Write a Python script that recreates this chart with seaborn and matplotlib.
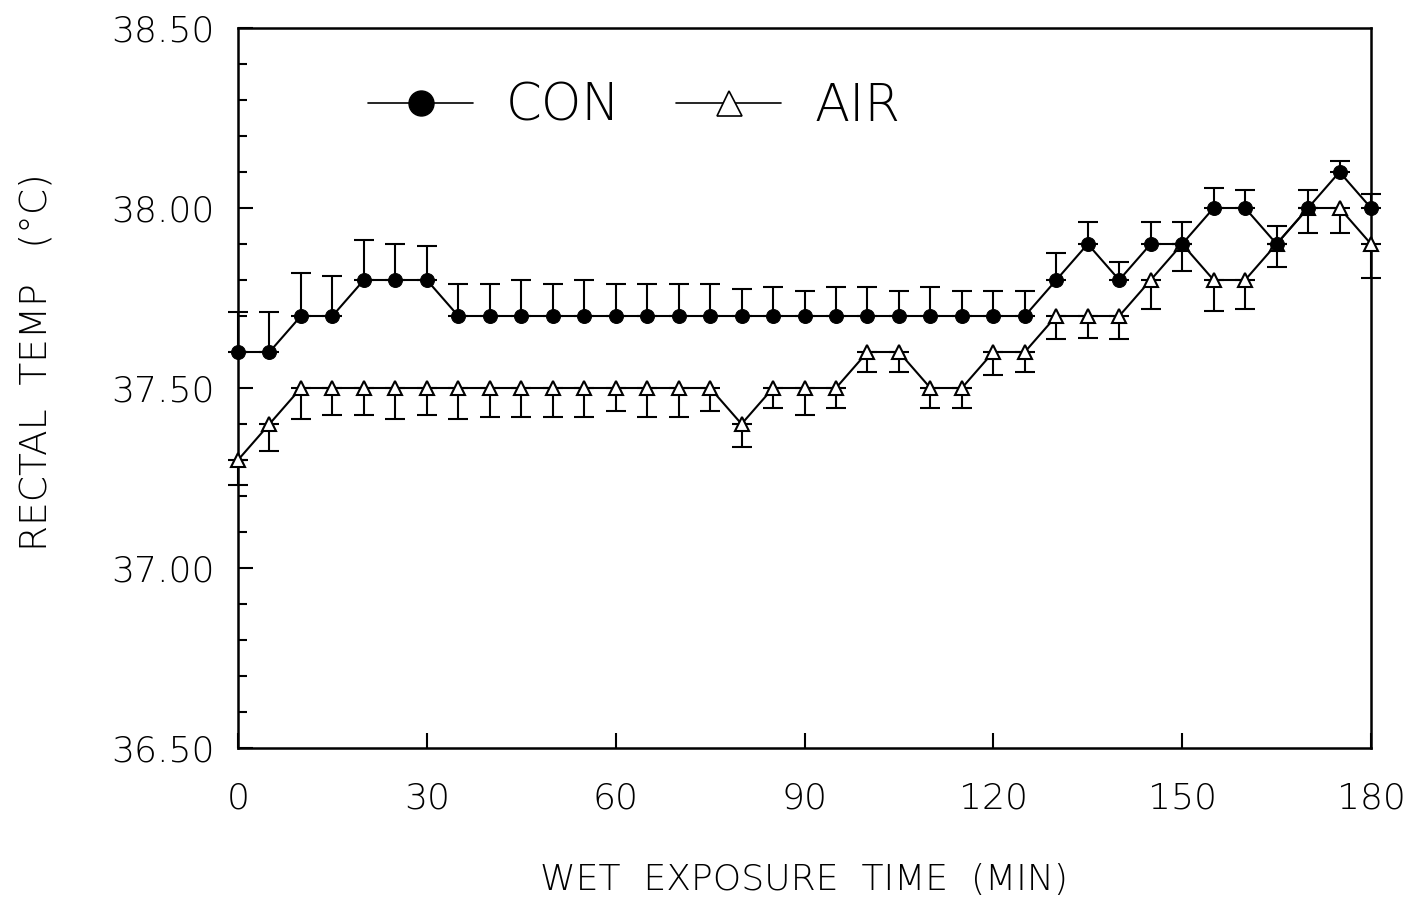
import matplotlib
matplotlib.use("Agg")
import matplotlib.pyplot as plt
from matplotlib.lines import Line2D
from matplotlib.ticker import MultipleLocator, FormatStrFormatter
import numpy as np
import pandas as pd
import seaborn as sns

# Exposure time (min)
time_min = [0, 5, 10, 15, 20, 25, 30, 35, 40, 45, 50, 55, 60, 65, 70, 75, 80, 85, 90,
            95, 100, 105, 110, 115, 120, 125, 130, 135, 140, 145, 150, 155, 160, 165,
            170, 175, 180]

# Control group: mean rectal temperature and SEM (upper bars)
con_mean = [37.6, 37.6, 37.7, 37.7, 37.8, 37.8, 37.8,
            37.7, 37.7, 37.7, 37.7, 37.7, 37.7, 37.7, 37.7, 37.7, 37.7,
            37.7, 37.7, 37.7, 37.7, 37.7, 37.7, 37.7, 37.7, 37.7,
            37.8, 37.9, 37.8, 37.9, 37.9, 38.0, 38.0, 37.9, 38.0, 38.1, 38.0]
con_sem = [0.11, 0.11, 0.12, 0.11, 0.11, 0.10, 0.095,
           0.09, 0.09, 0.10, 0.09, 0.10, 0.09, 0.09, 0.09, 0.09, 0.075,
           0.08, 0.07, 0.08, 0.08, 0.07, 0.08, 0.07, 0.07, 0.07,
           0.075, 0.06, 0.05, 0.06, 0.06, 0.055, 0.05, 0.05, 0.05, 0.03, 0.04]

# Air group: mean rectal temperature and SEM (lower bars)
air_mean = [37.3, 37.4, 37.5, 37.5, 37.5, 37.5, 37.5,
            37.5, 37.5, 37.5, 37.5, 37.5, 37.5, 37.5, 37.5, 37.5, 37.4,
            37.5, 37.5, 37.5, 37.6, 37.6, 37.5, 37.5, 37.6, 37.6,
            37.7, 37.7, 37.7, 37.8, 37.9, 37.8, 37.8, 37.9, 38.0, 38.0, 37.9]
air_sem = [0.07, 0.075, 0.085, 0.075, 0.075, 0.085, 0.075,
           0.085, 0.08, 0.08, 0.08, 0.08, 0.065, 0.08, 0.08, 0.065, 0.065,
           0.055, 0.075, 0.055, 0.055, 0.055, 0.055, 0.055, 0.065, 0.055,
           0.065, 0.06, 0.065, 0.08, 0.075, 0.085, 0.08, 0.065, 0.07, 0.07, 0.095]

x_ticks = [0, 30, 60, 90, 120, 150, 180]
y_ticks = [36.5, 37.0, 37.5, 38.0, 38.5]

sns.set_style("ticks")
plt.rcParams["font.family"] = ["DejaVu Sans"]
plt.rcParams["font.weight"] = "light"
plt.rcParams["axes.labelweight"] = "light"
plt.rcParams["text.color"] = "black"
plt.rcParams["axes.labelcolor"] = "black"
plt.rcParams["xtick.color"] = "black"
plt.rcParams["ytick.color"] = "black"

fig = plt.figure(figsize=(14.14, 9.01), dpi=100)
ax = fig.add_axes([238 / 1414, 1 - 748 / 901, 1133 / 1414, 720 / 901])

df = pd.DataFrame({"time": time_min, "con": con_mean, "air": air_mean})
zeros = np.zeros(len(time_min))

# error bars: CON upward, AIR downward
ax.errorbar(time_min, con_mean, yerr=[zeros, con_sem], fmt="none", ecolor="black",
            elinewidth=1.5, capsize=7, capthick=1.5, clip_on=False, zorder=2)
ax.errorbar(time_min, air_mean, yerr=[air_sem, zeros], fmt="none", ecolor="black",
            elinewidth=1.5, capsize=7, capthick=1.5, clip_on=False, zorder=2)

sns.lineplot(data=df, x="time", y="con", ax=ax, color="black", linewidth=1.5,
             marker="o", markersize=10, markerfacecolor="black",
             markeredgecolor="black", clip_on=False, zorder=4)
sns.lineplot(data=df, x="time", y="air", ax=ax, color="black", linewidth=1.5,
             marker="^", markersize=10, markerfacecolor="white",
             markeredgecolor="black", markeredgewidth=1.5, clip_on=False, zorder=3)

ax.set_xlim(0, 180)
ax.set_ylim(36.5, 38.5)
ax.set_xticks(x_ticks)
ax.set_yticks(y_ticks)
ax.yaxis.set_minor_locator(MultipleLocator(0.1))
ax.yaxis.set_major_formatter(FormatStrFormatter("%.2f"))

ax.tick_params(axis="both", which="both", direction="in", top=False, right=False,
               width=1.5, color="black", labelcolor="black")
ax.tick_params(axis="both", which="major", length=11, labelsize=26)
ax.tick_params(axis="y", which="minor", length=6.5)
ax.tick_params(axis="y", which="major", pad=17)
ax.tick_params(axis="x", which="major", pad=24)

for side in ["left", "right", "top", "bottom"]:
    ax.spines[side].set_visible(True)
    ax.spines[side].set_linewidth(1.8)
    ax.spines[side].set_color("black")

ax.set_xlabel("WET  EXPOSURE  TIME  (MIN)", fontsize=26, fontweight="light", labelpad=34)
ax.set_ylabel("RECTAL  TEMP   (°C)", fontsize=27, fontweight="light")
ax.yaxis.set_label_coords(-0.163, 0.536)

handles = [
    Line2D([], [], color="black", linewidth=1.2, marker="o", markersize=18,
           markerfacecolor="black", markeredgecolor="black"),
    Line2D([], [], color="black", linewidth=1.2, marker="^", markersize=18,
           markerfacecolor="white", markeredgecolor="black", markeredgewidth=1.2),
]
ax.legend(handles, ["CON", "AIR"], ncol=2, frameon=False, fontsize=37,
          loc="center left", bbox_to_anchor=(0.115, 0.891),
          handlelength=2.04, handletextpad=0.64, columnspacing=1.08,
          borderaxespad=0, borderpad=0)

fig.savefig("out.png", dpi=100, facecolor="white")
